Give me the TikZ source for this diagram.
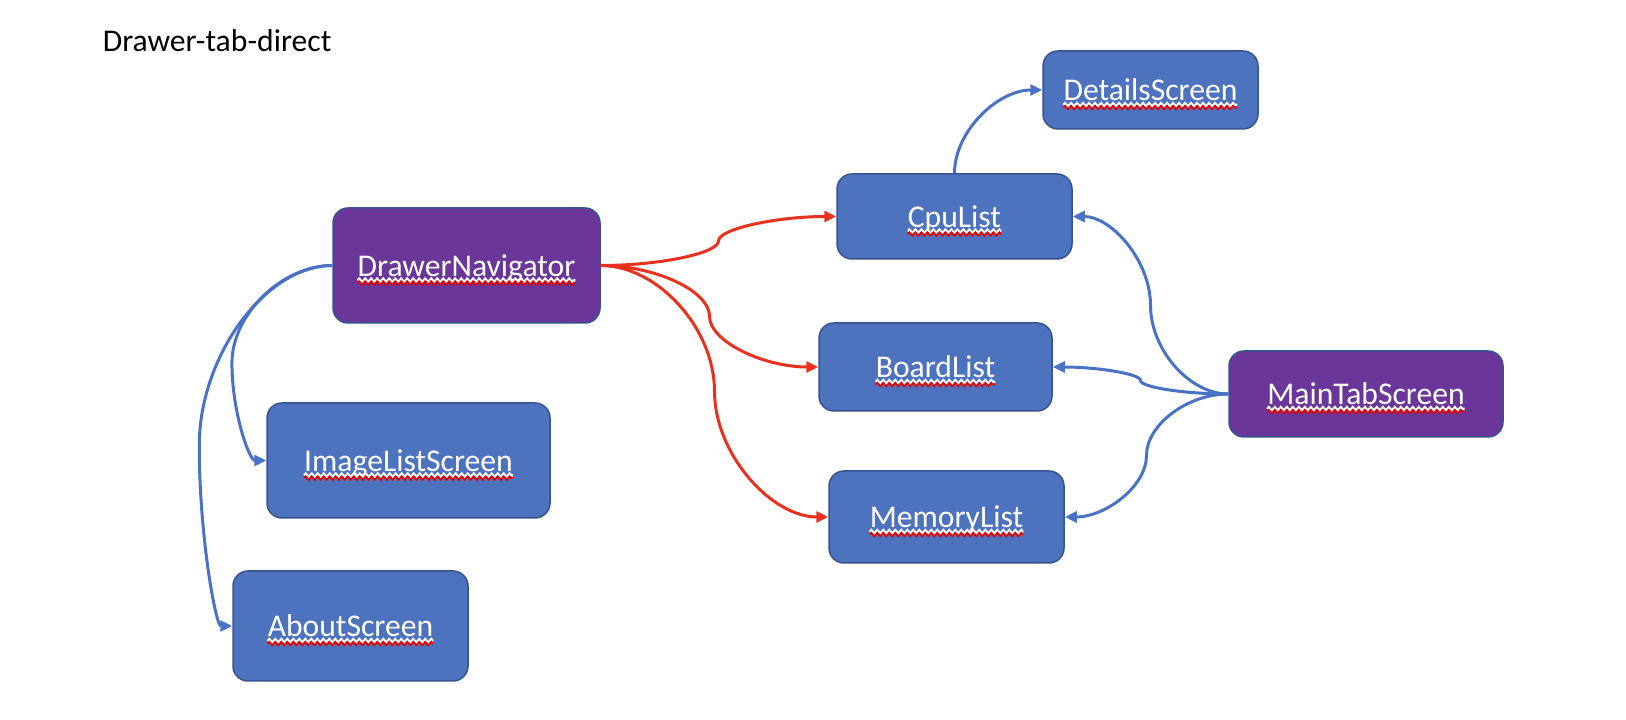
\documentclass[tikz,border=0pt]{standalone}
\usepackage{fontspec}
\setmainfont{Carlito}
\usetikzlibrary{arrows.meta,calc,decorations.pathmorphing}

\definecolor{boxblue}{HTML}{4E73BE}
\definecolor{boxedge}{HTML}{35538F}
\definecolor{navpurple}{HTML}{6A3699}
\definecolor{linkred}{HTML}{E8321F}
\definecolor{linkblue}{HTML}{4A72C4}

% red spell-check wave under a label
\newcommand{\squiggly}[1]{\tikz[baseline=(w.base)]{%
  \node[inner sep=0pt, outer sep=0pt, draw=none, fill=none, minimum width=0pt, minimum height=0pt, text height=, text depth=] (w) {#1};
  \draw[overlay, white, line width=0.05cm, sharp corners, decorate, decoration={zigzag, segment length=0.12cm, amplitude=0.035cm}]
    ([yshift=-0.08cm]w.base west) -- ([yshift=-0.08cm]w.base east);
  \draw[overlay, red!90!black, line width=0.035cm, sharp corners, decorate, decoration={zigzag, segment length=0.12cm, amplitude=0.035cm}]
    ([yshift=-0.13cm]w.base west) -- ([yshift=-0.13cm]w.base east);}}

% curved connector, bend at a fraction #1 of the way across
\newcommand{\curvedlink}[4][0.5]{%
  \draw[#2] let \p1=(#3), \p2=(#4), \p3=({\x1+#1*(\x2-\x1)},{(\y1+\y2)/2}) in
    (\p1) .. controls ({(\x1+\x3)/2},\y1) and (\x3,{(3*\y1+\y2)/4}) .. (\p3)
    .. controls (\x3,{(\y1+3*\y2)/4}) and ({(\x3+\x2)/2},\y2) .. (\p2);}

\begin{document}
\begin{tikzpicture}
\tikzset{screen/.style={draw=boxedge, line width=0.03cm, fill=boxblue, rounded corners=0.3cm, text=white, text height=0.54cm, text depth=0.1cm, font=\fontsize{18pt}{20pt}\selectfont},
  navscreen/.style={screen, fill=navpurple},
  redlink/.style={draw=linkred, line width=0.06cm, -{Triangle[length=0.24cm,width=0.22cm]}},
  bluelink/.style={redlink, draw=linkblue}}
\useasboundingbox (0,0) rectangle (32.52,14.4);
\node[anchor=base west, inner sep=0pt, font=\fontsize{18pt}{20pt}\selectfont] (title) at (2.05,13.36) {Drawer-tab-direct};
\node[navscreen, minimum width=5.34cm, minimum height=2.3cm] (DN) at (9.33,9.09) {\squiggly{DrawerNavigator}};
\node[screen, minimum width=5.66cm, minimum height=2.3cm] (ILS) at (8.17,5.19) {\squiggly{ImageListScreen}};
\node[screen, minimum width=4.7cm, minimum height=2.2cm] (About) at (7.01,1.88) {\squiggly{AboutScreen}};
\node[screen, minimum width=4.7cm, minimum height=1.7cm] (Cpu) at (19.09,10.07) {\squiggly{CpuList}};
\node[screen, minimum width=4.66cm, minimum height=1.76cm] (Board) at (18.71,7.06) {\squiggly{BoardList}};
\node[screen, minimum width=4.7cm, minimum height=1.84cm] (Mem) at (18.93,4.06) {\squiggly{MemoryList}};
\node[screen, minimum width=4.3cm, minimum height=1.56cm] (Det) at (23.01,12.6) {\squiggly{DetailsScreen}};
\node[navscreen, minimum width=5.48cm, minimum height=1.72cm] (MT) at (27.32,6.52) {\squiggly{MainTabScreen}};
% drawer
\curvedlink{redlink}{DN.east}{Cpu.west}
\curvedlink{redlink}{DN.east}{Board.west}
\curvedlink{redlink}{DN.east}{Mem.west}
\curvedlink[1.52]{bluelink}{DN.west}{ILS.west}
\curvedlink[1.33]{bluelink}{DN.west}{About.west}
% tabs
\curvedlink{bluelink}{MT.west}{Cpu.east}
\curvedlink{bluelink}{MT.west}{Board.east}
\curvedlink{bluelink}{MT.west}{Mem.east}
\draw[bluelink] (Cpu.north) .. controls +(0,0.84) and +(-0.89,0) .. (Det.west);
\end{tikzpicture}
\end{document}
